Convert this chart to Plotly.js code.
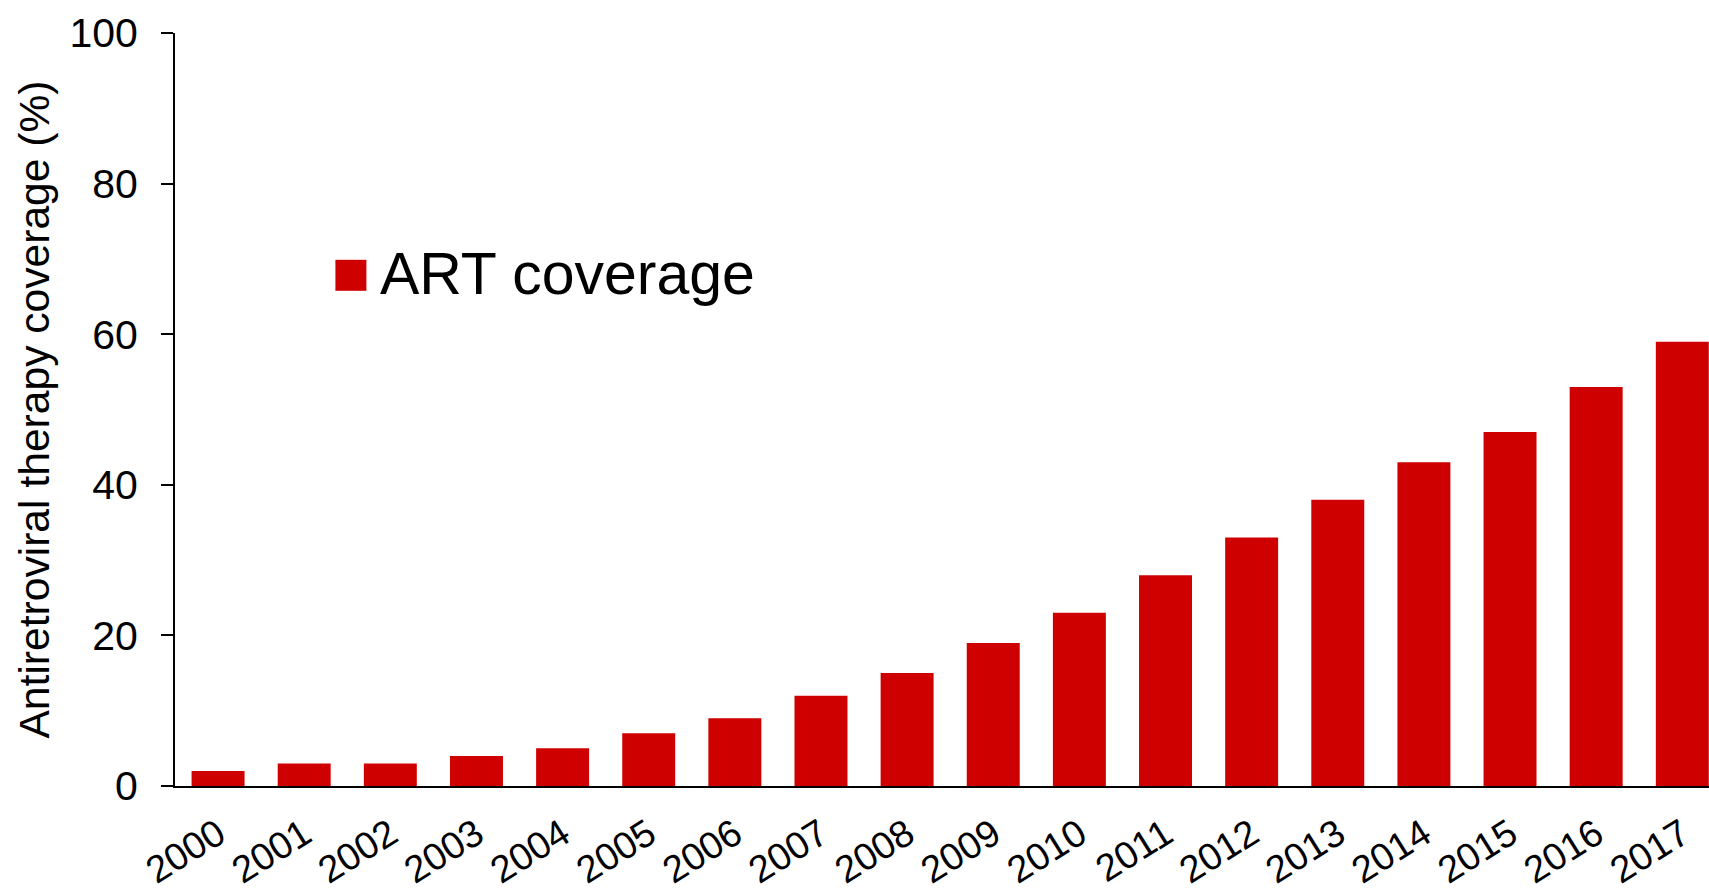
<!DOCTYPE html>
<html>
<head>
<meta charset="utf-8">
<script src="https://cdn.plot.ly/plotly-3.0.1.min.js"></script>
<style>
  html, body { margin: 0; padding: 0; background: #ffffff; }
  #chart { width: 1709px; height: 890px; }
</style>
</head>
<body>
<div id="chart"></div>
<script>
const years = ['2000','2001','2002','2003','2004','2005','2006','2007','2008',
               '2009','2010','2011','2012','2013','2014','2015','2016','2017'];
const artCoverage = [2, 3, 3, 4, 5, 7, 9, 12, 15, 19, 23, 28, 33, 38, 43, 47, 53, 59];
const yTickValues = [0, 20, 40, 60, 80, 100];
const seriesName = 'ART coverage';
const yTitle = 'Antiretroviral therapy coverage (%)';

const barColor = '#cf0000';
const fontFamily = '"Liberation Sans", Arial, Helvetica, sans-serif';

const data = [{
  type: 'bar',
  x: years,
  y: artCoverage,
  name: seriesName,
  marker: { color: barColor, line: { width: 0 } },
  showlegend: true,
  hoverinfo: 'x+y'
}];

const layout = {
  width: 1709,
  height: 890,
  margin: { l: 175, r: 0, t: 33, b: 104, pad: 0 },
  paper_bgcolor: '#ffffff',
  plot_bgcolor: '#ffffff',
  font: { family: fontFamily, color: '#000000', size: 40 },
  bargap: 0.385,
  xaxis: {
    type: 'category',
    range: [-0.5, 17.31],
    showline: true,
    linecolor: '#000000',
    linewidth: 2,
    ticks: '',
    showgrid: false,
    zeroline: false,
    tickangle: -32,
    tickfont: { family: fontFamily, size: 38, color: '#000000' },
    ticklabelstandoff: 9,
    fixedrange: true
  },
  yaxis: {
    range: [0, 100],
    tickvals: yTickValues,
    ticktext: yTickValues.map(String),
    showline: true,
    linecolor: '#000000',
    linewidth: 2,
    ticks: 'outside',
    ticklen: 12,
    tickwidth: 2,
    tickcolor: '#000000',
    showgrid: false,
    zeroline: false,
    tickfont: { family: fontFamily, size: 41, color: '#000000' },
    ticklabelstandoff: 15,
    title: { text: yTitle, font: { family: fontFamily, size: 42.6, color: '#000000' }, standoff: 6 },
    fixedrange: true
  },
  showlegend: true,
  legend: {
    x: 0.1075,
    y: 0.684,
    xanchor: 'left',
    yanchor: 'middle',
    bgcolor: 'rgba(0,0,0,0)',
    borderwidth: 0,
    font: { family: fontFamily, size: 59, color: '#000000' }
  }
};

Plotly.newPlot('chart', data, layout, { displayModeBar: false, staticPlot: true }).then(function (gd) {
  // enlarge the legend swatch to match the reference's big square key
  gd.querySelectorAll('.legend [clip-path]').forEach(function (el) { el.removeAttribute('clip-path'); });
  const trace = gd.querySelector('.legend .traces');
  if (!trace) return;
  const txt = trace.querySelector('text.legendtext');
  const path = trace.querySelector('.legendpoints path');
  if (!txt || !path) return;
  const textX = parseFloat(txt.getAttribute('x')) || 40;
  let cx = 0;
  const tr = path.getAttribute('transform');
  if (tr) {
    const m = /translate\(\s*([-\d.]+)/.exec(tr);
    if (m) cx = parseFloat(m[1]);
  }
  const L = textX - 44.5 - cx, R = textX - 13.5 - cx;
  const T = -11, B = 20;
  path.setAttribute('d', 'M' + R + ',' + B + 'H' + L + 'V' + T + 'H' + R + 'Z');
});
</script>
</body>
</html>
